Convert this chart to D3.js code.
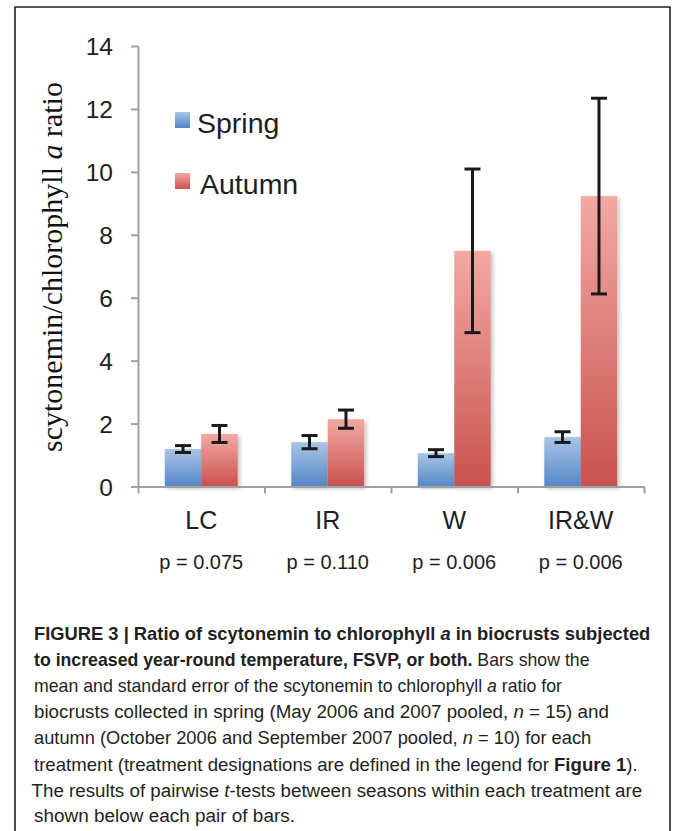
<!DOCTYPE html>
<html>
<head>
<meta charset="utf-8">
<script src="https://cdn.jsdelivr.net/npm/d3@7"></script>
<style>
  html, body { margin: 0; padding: 0; background: #fff; }
  svg { display: block; }
</style>
</head>
<body>
<script>
// ---------- data ----------
const categories = ["LC", "IR", "W", "IR&W"];
const seasons = ["Spring", "Autumn"];
const springMean = [1.19, 1.41, 1.06, 1.57];
const springSE   = [0.11, 0.21, 0.11, 0.17];
const autumnMean = [1.67, 2.14, 7.49, 9.23];
const autumnSE   = [0.27, 0.29, 2.60, 3.11];
const pValues = ["p = 0.075", "p = 0.110", "p = 0.006", "p = 0.006"];
const yTicks = [0, 2, 4, 6, 8, 10, 12, 14];
const yTitle = ["scytonemin/chlorophyll ", "a", " ratio"];

const captionLines = [
  [{t: "FIGURE 3 | Ratio of scytonemin to chlorophyll ", b: 1}, {t: "a", b: 1, i: 1}, {t: " in biocrusts subjected", b: 1}],
  [{t: "to increased year-round temperature, FSVP, or both.", b: 1}, {t: " Bars show the"}],
  [{t: "mean and standard error of the scytonemin to chlorophyll "}, {t: "a", i: 1}, {t: " ratio for"}],
  [{t: "biocrusts collected in spring (May 2006 and 2007 pooled, "}, {t: "n", i: 1}, {t: " = 15) and"}],
  [{t: "autumn (October 2006 and September 2007 pooled, "}, {t: "n", i: 1}, {t: " = 10) for each"}],
  [{t: "treatment (treatment designations are defined in the legend for "}, {t: "Figure 1", b: 1}, {t: ")."}],
  [{t: "The results of pairwise "}, {t: "t", i: 1}, {t: "-tests between seasons within each treatment are"}],
  [{t: "shown below each pair of bars."}]
];
const captionWidths = [617, 556, 528, 575, 558, 604, 611, 261];
const captionX = [34, 34, 34, 34, 34, 34, 31.5, 34];

// ---------- setup ----------
const W = 675, H = 831;
const svg = d3.select("body").append("svg").attr("width", W).attr("height", H);
const defs = svg.append("defs");

function grad(id, top, bottom) {
  const g = defs.append("linearGradient").attr("id", id)
    .attr("x1", 0).attr("y1", 0).attr("x2", 0).attr("y2", 1);
  g.append("stop").attr("offset", "0%").attr("stop-color", top);
  g.append("stop").attr("offset", "100%").attr("stop-color", bottom);
}
grad("gSpring", "#a9c4e6", "#5388c7");
grad("gAutumn", "#f3a9a4", "#c9524e");
const f = defs.append("filter").attr("id", "shadow")
  .attr("x", "-20%").attr("y", "-5%").attr("width", "150%").attr("height", "115%");
f.append("feDropShadow").attr("dx", 2).attr("dy", 2).attr("stdDeviation", 2)
  .attr("flood-color", "#000").attr("flood-opacity", 0.25);

// frame
svg.append("path")
  .attr("d", `M15,${H + 5} L15,7 L670,7 L670,${H + 5}`)
  .attr("fill", "none").attr("stroke", "#222").attr("stroke-width", 1.6);

// scales
const left = 138, right = 644, y0 = 486.5, yTop = 46;
const y = d3.scaleLinear().domain([0, 14]).range([y0, yTop]);
const x0 = d3.scaleBand().domain(categories).range([left, right]).paddingInner(0).paddingOuter(0);
const x1 = d3.scaleBand().domain(seasons).range([0, x0.bandwidth()]).paddingInner(0).paddingOuter(0.735);
const xb = d3.scaleLinear().domain([0, categories.length]).range([left, right]);

const axisColor = "#a0a0a0";

// bars
const barData = [];
categories.forEach((c, i) => {
  barData.push({cat: c, season: "Spring", mean: springMean[i], se: springSE[i]});
  barData.push({cat: c, season: "Autumn", mean: autumnMean[i], se: autumnSE[i]});
});

svg.append("g").selectAll("rect").data(barData).join("rect")
  .attr("x", d => x0(d.cat) + x1(d.season))
  .attr("y", d => y(d.mean))
  .attr("width", x1.bandwidth())
  .attr("height", d => y(0) - y(d.mean))
  .attr("fill", d => d.season === "Spring" ? "url(#gSpring)" : "url(#gAutumn)")
  .attr("filter", "url(#shadow)");

// y axis
const yAxis = svg.append("g").attr("transform", `translate(${left},0)`)
  .call(d3.axisLeft(y).tickValues(yTicks).tickSize(7).tickPadding(18).tickSizeOuter(0));
yAxis.select(".domain").attr("stroke", axisColor).attr("stroke-width", 2);
yAxis.selectAll(".tick line").attr("stroke", axisColor).attr("stroke-width", 2);
yAxis.selectAll(".tick text").attr("fill", "#1e1e1e")
  .style("font-family", "'Liberation Sans', Arial, sans-serif").style("font-size", "24.5px")
  .attr("dy", "0.35em");

// x axis (boundary ticks)
const xAxis = svg.append("g").attr("transform", `translate(0,${y0})`)
  .call(d3.axisBottom(xb).tickValues(d3.range(categories.length + 1)).tickFormat("").tickSize(7).tickSizeOuter(0));
xAxis.select(".domain").attr("stroke", axisColor).attr("stroke-width", 2);
xAxis.selectAll(".tick line").attr("stroke", axisColor).attr("stroke-width", 2);

// error bars
const eb = svg.append("g").attr("stroke", "#1a1a1a").attr("fill", "none");
const capW = 16;
barData.forEach(d => {
  const cx = x0(d.cat) + x1(d.season) + x1.bandwidth() / 2;
  const yh = y(d.mean + d.se), yl = y(d.mean - d.se);
  eb.append("line").attr("x1", cx).attr("x2", cx).attr("y1", yh).attr("y2", yl).attr("stroke-width", 3);
  eb.append("line").attr("x1", cx - capW / 2).attr("x2", cx + capW / 2).attr("y1", yh).attr("y2", yh).attr("stroke-width", 3);
  eb.append("line").attr("x1", cx - capW / 2).attr("x2", cx + capW / 2).attr("y1", yl).attr("y2", yl).attr("stroke-width", 3);
});

// category labels & p-values
const sans = "'Liberation Sans', Arial, sans-serif";
svg.append("g").selectAll("text").data(categories).join("text")
  .attr("x", d => x0(d) + x0.bandwidth() / 2).attr("y", 529)
  .attr("text-anchor", "middle").attr("fill", "#1e1e1e")
  .style("font-family", sans).style("font-size", "25px").text(d => d);
svg.append("g").selectAll("text").data(pValues).join("text")
  .attr("x", (d, i) => x0(categories[i]) + x0.bandwidth() / 2).attr("y", 569)
  .attr("text-anchor", "middle").attr("fill", "#1e1e1e")
  .style("font-family", sans).style("font-size", "20px").text(d => d);

// legend
const legend = svg.append("g");
const legendY = [112, 173];
seasons.forEach((s, i) => {
  legend.append("rect").attr("x", 175).attr("y", legendY[i]).attr("width", 15).attr("height", 16)
    .attr("fill", s === "Spring" ? "url(#gSpring)" : "url(#gAutumn)");
  legend.append("text").attr("x", i === 0 ? 197 : 200).attr("y", legendY[i] + 21)
    .attr("fill", "#1e1e1e").style("font-family", sans).style("font-size", "28.5px").text(s);
});

// y title
const yt = svg.append("text")
  .attr("transform", "translate(62,267) rotate(-90)")
  .attr("text-anchor", "middle").attr("fill", "#111")
  .style("font-family", "'Liberation Serif', 'Times New Roman', serif").style("font-size", "30px");
yt.append("tspan").text(yTitle[0]);
yt.append("tspan").style("font-style", "italic").text(yTitle[1]);
yt.append("tspan").text(yTitle[2]);

// caption
const capG = svg.append("g");
const baselines = [639.5, 665.7, 691.9, 718.1, 744.3, 770.5, 796.7, 822];
captionLines.forEach((segs, li) => {
  const t = capG.append("text").attr("fill", "#231f20")
    .style("font-family", sans).style("font-size", "18px");
  segs.forEach(s => {
    t.append("tspan").text(s.t)
      .style("font-weight", s.b ? "bold" : "normal")
      .style("font-style", s.i ? "italic" : "normal");
  });
  const w = t.node().getComputedTextLength();
  const sx = captionWidths[li] / w;
  t.attr("transform", `translate(${captionX[li]},${baselines[li]}) scale(${sx},1)`);
});
</script>
</body>
</html>
